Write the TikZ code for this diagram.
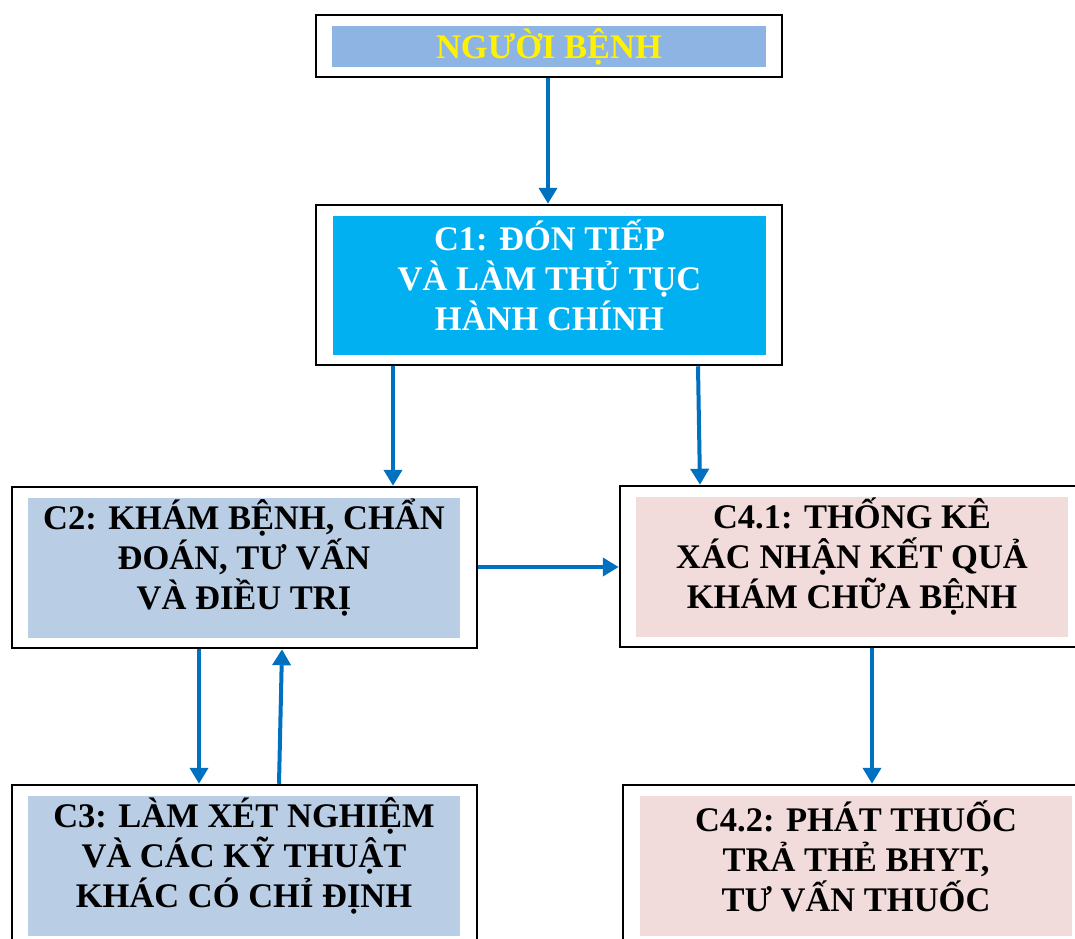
\documentclass[tikz,border=0pt]{standalone}
\usepackage{fontspec}
\setmainfont{Liberation Serif}
\usetikzlibrary{arrows.meta}
\definecolor{arrowblue}{RGB}{0,112,192}
\definecolor{topfill}{RGB}{142,180,227}
\definecolor{cyanfill}{RGB}{0,176,240}
\definecolor{bluegray}{RGB}{185,205,229}
\definecolor{pinkfill}{RGB}{242,220,219}
\begin{document}
\begin{tikzpicture}[x=1pt,y=-1pt,
  outerbox/.style={draw=black, line width=2.5pt, minimum width=465pt, minimum height=161pt, inner sep=0pt},
  innerbox/.style={minimum width=432pt, minimum height=140pt, inner sep=0pt},
  basetext/.style={inner sep=0pt, align=center, font=\fontsize{34.5}{40}\selectfont\bfseries},
  label text/.style={basetext, yshift=10pt},
  conn/.style={draw=arrowblue, line width=4pt, -{Triangle[width=18pt,length=16pt]}}
]
\useasboundingbox (0,0) rectangle (1075,938);
\clip (0,0) rectangle (1075,938);
% top
\node[outerbox, minimum width=466pt, minimum height=62pt] (top) at (549,46) {};
\node[innerbox, fill=topfill, minimum width=434pt, minimum height=41pt] (topin) at (549,46.5) {};
\node[basetext, text=yellow] (topt) at (topin) {NGƯỜI BỆNH};
% C1
\node[outerbox, minimum width=466pt, minimum height=160pt] (c1) at (549,285) {};
\node[innerbox, fill=cyanfill, minimum width=433pt, minimum height=139pt] (c1in) at (549.5,285.5) {};
\node[label text, text=white] (c1t) at (c1in) {C1: ĐÓN TIẾP\\VÀ LÀM THỦ TỤC\\HÀNH CHÍNH};
% C2
\node[outerbox] (c2) at (244.5,567.5) {};
\node[innerbox, fill=bluegray] (c2in) at (244,568) {};
\node[label text] (c2t) at (c2in) {C2: KHÁM BỆNH, CHẨN\\ĐOÁN, TƯ VẤN\\VÀ ĐIỀU TRỊ};
% C4.1
\node[outerbox, minimum width=464pt] (c41) at (852,566.5) {};
\node[innerbox, fill=pinkfill] (c41in) at (852,567) {};
\node[label text] (c41t) at (c41in) {C4.1: THỐNG KÊ\\XÁC NHẬN KẾT QUẢ\\KHÁM CHỮA BỆNH};
% C3
\node[outerbox] (c3) at (244.5,865.5) {};
\node[innerbox, fill=bluegray] (c3in) at (244,866) {};
\node[label text] (c3t) at (c3in) {C3: LÀM XÉT NGHIỆM\\VÀ CÁC KỸ THUẬT\\KHÁC CÓ CHỈ ĐỊNH};
% C4.2
\node[outerbox] (c42) at (855.5,865.5) {};
\node[innerbox, fill=pinkfill] (c42in) at (856,866) {};
\node[label text] (c42t) at (c42in) {C4.2: PHÁT THUỐC\\TRẢ THẺ BHYT,\\TƯ VẤN THUỐC};
% connectors
\draw[conn] (top.south -| 548,0) -- (c1.north -| 548,0);
\draw[conn] (c1.south -| 393,0) -- (c2.north -| 393,0);
\draw[conn] (c1.south -| 698,0) -- (c41.north -| 700,0);
\draw[conn] (c2.east |- 0,567) -- (c41.west |- 0,567);
\draw[conn] (c2.south -| 199,0) -- (c3.north -| 199,0);
\draw[conn] (c3.north -| 279,0) -- (c2.south -| 282,0);
\draw[conn] (c41.south -| 872,0) -- (c42.north -| 872,0);
\end{tikzpicture}
\end{document}
